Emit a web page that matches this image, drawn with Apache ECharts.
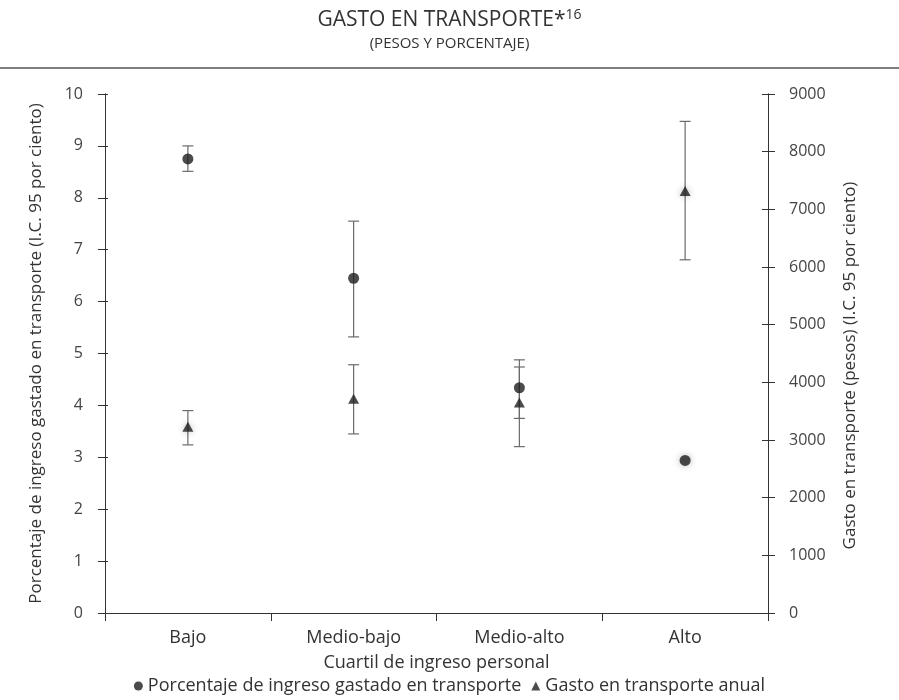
<!DOCTYPE html>
<html>
<head>
<meta charset="utf-8">
<script src="https://cdn.jsdelivr.net/npm/echarts@6/dist/echarts.min.js"></script>
<style>
  html, body { margin: 0; padding: 0; background: #fff; }
  #chart { width: 899px; height: 700px; }
</style>
</head>
<body>
<div id="chart"></div>
<script>
// Income quartiles
const categories = ['Bajo', 'Medio-bajo', 'Medio-alto', 'Alto'];

// Share of income spent on transport (%), with 95% CI
const pctValues = [8.75, 6.45, 4.34, 2.94];
const pctLow    = [8.51, 5.32, 3.75, null];
const pctHigh   = [9.00, 7.55, 4.74, null];

// Annual transport spending (pesos), with 95% CI
const pesosValues = [3230, 3715, 3650, 7320];
const pesosLow    = [2915, 3105, 2885, 6125];
const pesosHigh   = [3510, 4305, 4390, 8525];

// Axis ticks
const pctTicks = { min: 0, max: 10, interval: 1 };
const pesosTicks = { min: 0, max: 9000, interval: 1000 };

const FONT = '"Open Sans", "Noto Sans", sans-serif';
const TEXT = '#333';
const HALO = { shadowBlur: 7, shadowColor: 'rgba(0,0,0,0.35)' };

function errorBars(low, high) {
  return categories.map((c, i) => [i, low[i], high[i]]).filter(d => d[1] != null);
}

function renderErrorBar(params, api) {
  const x = api.value(0);
  const lo = api.coord([x, api.value(1)]);
  const hi = api.coord([x, api.value(2)]);
  const half = 5.5;
  const style = { stroke: '#6b6b6b', lineWidth: 1.2 };
  return {
    type: 'group',
    children: [
      { type: 'line', shape: { x1: lo[0], y1: lo[1], x2: hi[0], y2: hi[1] }, style },
      { type: 'line', shape: { x1: hi[0] - half, y1: hi[1], x2: hi[0] + half, y2: hi[1] }, style },
      { type: 'line', shape: { x1: lo[0] - half, y1: lo[1], x2: lo[0] + half, y2: lo[1] }, style }
    ]
  };
}

// points that carry a soft halo in the printed figure
function withHalo(values, idx) {
  return values.map((v, i) => idx.includes(i) ? { value: v, itemStyle: HALO } : v);
}

const chart = echarts.init(document.getElementById('chart'), null, { renderer: 'canvas' });

const yCommon = {
  type: 'value',
  splitLine: { show: false },
  axisLine: { show: true, lineStyle: { color: '#333', width: 1 } },
  axisTick: { show: true, length: 7, lineStyle: { color: '#333' } },
  axisLabel: { color: '#444', fontSize: 16, fontFamily: FONT, formatter: v => String(v) },
  nameLocation: 'middle',
  nameRotate: 90,
  nameTextStyle: { color: TEXT, fontSize: 17, fontFamily: FONT }
};

chart.setOption({
  backgroundColor: '#fff',
  animation: false,
  title: {
    left: 'center',
    top: 3,
    text: 'GASTO EN TRANSPORTE*{sup|16}',
    textStyle: {
      color: TEXT, fontSize: 21, fontWeight: 'normal', fontFamily: FONT,
      rich: { sup: { fontSize: 14, color: TEXT, fontFamily: FONT, padding: [0, 0, 11, 0] } }
    },
    subtext: '(PESOS Y PORCENTAJE)',
    itemGap: 5,
    subtextStyle: { color: TEXT, fontSize: 15, fontFamily: FONT }
  },
  graphic: [
    { type: 'line', shape: { x1: 0, y1: 68, x2: 899, y2: 68 }, style: { stroke: '#555', lineWidth: 1.5 } }
  ],
  legend: {
    bottom: 0,
    left: 'center',
    itemWidth: 9,
    itemHeight: 9,
    itemGap: 10,
    textStyle: { color: TEXT, fontSize: 18, fontFamily: FONT, padding: [0, 0, 0, 0] },
    data: [
      { name: 'Porcentaje de ingreso gastado en transporte', icon: 'circle' },
      { name: 'Gasto en transporte anual', icon: 'triangle' }
    ]
  },
  grid: { left: 105, right: 131, top: 94, bottom: 87 },
  xAxis: {
    type: 'category',
    data: categories,
    boundaryGap: true,
    axisLine: { lineStyle: { color: '#333' } },
    axisTick: { show: true, length: 8, lineStyle: { color: '#333' } },
    axisLabel: { color: TEXT, fontSize: 18, fontFamily: FONT, margin: 16 },
    name: 'Cuartil de ingreso personal',
    nameLocation: 'middle',
    nameGap: 41,
    nameTextStyle: { color: TEXT, fontSize: 18, fontFamily: FONT }
  },
  yAxis: [
    Object.assign({}, yCommon, pctTicks, {
      position: 'left',
      name: 'Porcentaje de ingreso gastado en transporte (I.C. 95 por ciento)',
      nameGap: 60,
      axisLabel: Object.assign({}, yCommon.axisLabel, { margin: 22 })
    }),
    Object.assign({}, yCommon, pesosTicks, {
      position: 'right',
      name: 'Gasto en transporte (pesos) (I.C. 95 por ciento)',
      nameGap: 74,
      nameTextStyle: Object.assign({}, yCommon.nameTextStyle, { padding: [0, 24, 0, 0] }),
      axisLabel: Object.assign({}, yCommon.axisLabel, { margin: 21 })
    }),
    // inner halves of the crossing ticks
    Object.assign({}, yCommon, pctTicks, {
      position: 'left', name: '', axisLabel: { show: false },
      axisTick: { show: true, inside: true, length: 3, lineStyle: { color: '#333' } }
    }),
    Object.assign({}, yCommon, pesosTicks, {
      position: 'right', name: '', axisLabel: { show: false },
      axisTick: { show: true, inside: true, length: 6, lineStyle: { color: '#333' } }
    })
  ],
  series: [
    {
      type: 'custom',
      name: 'pctCI',
      yAxisIndex: 0,
      renderItem: renderErrorBar,
      data: errorBars(pctLow, pctHigh),
      encode: { x: 0, y: [1, 2] },
      z: 1
    },
    {
      type: 'custom',
      name: 'pesosCI',
      yAxisIndex: 1,
      renderItem: renderErrorBar,
      data: errorBars(pesosLow, pesosHigh),
      encode: { x: 0, y: [1, 2] },
      z: 1
    },
    {
      type: 'scatter',
      name: 'Porcentaje de ingreso gastado en transporte',
      yAxisIndex: 0,
      symbol: 'circle',
      symbolSize: 11,
      itemStyle: { color: '#1e1e1e' },
      data: withHalo(pctValues, [3]),
      z: 3
    },
    {
      type: 'scatter',
      name: 'Gasto en transporte anual',
      yAxisIndex: 1,
      symbol: 'triangle',
      symbolSize: [11, 10],
      itemStyle: { color: '#1e1e1e' },
      data: withHalo(pesosValues, [0, 3]),
      z: 3
    }
  ]
});
</script>
</body>
</html>
